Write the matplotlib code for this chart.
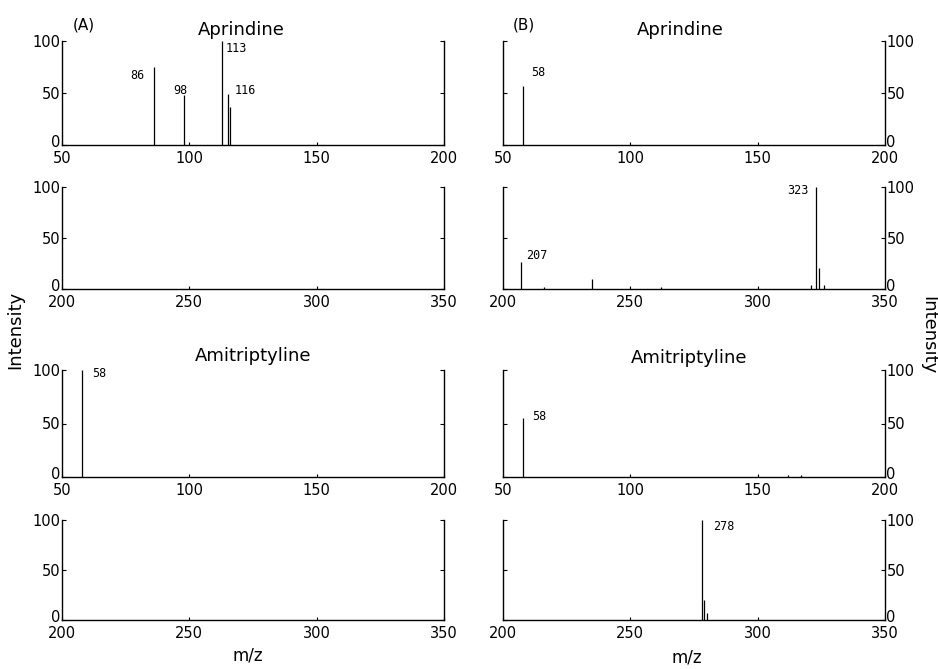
import numpy as np
from matplotlib import pyplot as plt
from matplotlib.transforms import ScaledTranslation

# 质谱数据 (m/z, 相对强度)
apr_a_low_mz = [86, 98, 113, 115, 116]
apr_a_low_int = [75, 48, 100, 49, 37]
apr_a_high_mz = []
apr_a_high_int = []

apr_b_low_mz = [58]
apr_b_low_int = [57]
apr_b_high_mz = [207, 216, 235, 262, 321, 323, 324, 326]
apr_b_high_int = [26, 2, 10, 2, 4, 100, 21, 4]

ami_a_low_mz = [58]
ami_a_low_int = [100]
ami_a_high_mz = []
ami_a_high_int = []

ami_b_low_mz = [58, 162, 167]
ami_b_low_int = [55, 1.5, 1.5]
ami_b_high_mz = [278, 279, 280]
ami_b_high_int = [100, 20, 7]

low_ticks = [50, 100, 150, 200]
high_ticks = [200, 250, 300, 350]
y_ticks = [0, 50, 100]

# 标注的峰
apr_a_low_lab = [86, 98, 113, 116]
apr_b_low_lab = [58]
apr_b_high_lab = [207, 323]
ami_a_low_lab = [58]
ami_b_low_lab = [58]
ami_b_high_lab = [278]

W, H = 938, 669
fig = plt.figure(figsize=(W / 100, H / 100), dpi=100)


def box(x0, x1, y0, y1):
    # 像素 -> 图坐标
    return [x0 / W, 1 - y1 / H, (x1 - x0) / W, (y1 - y0) / H]


def spectrum(rect, mz, inten, xlim, ticks, side, labels, offsets):
    ax = fig.add_axes(rect)
    ax.vlines(mz, 0, inten, colors='k', linewidth=0.9, clip_on=False)
    ax.set_xlim(*xlim)
    ax.set_ylim(0, 100)
    ax.set_xticks(ticks)
    ax.set_yticks(y_ticks)
    ax.spines['top'].set_visible(False)
    for s in ['left', 'right', 'bottom']:
        ax.spines[s].set_linewidth(1.0)
    ax.tick_params(axis='x', direction='in', length=2, pad=4, labelsize=10.5)
    ax.tick_params(axis='y', direction='in', length=3, pad=1, labelsize=10.5,
                   left=True, right=True,
                   labelleft=(side == 'left'), labelright=(side == 'right'))
    # "0" 稍微上移, 避免和 x 轴刻度重叠
    shift = ScaledTranslation(0, 3 / 72, fig.dpi_scale_trans)
    t0 = ax.yaxis.get_major_ticks()[0]
    t0.label1.set_transform(t0.label1.get_transform() + shift)
    t0.label2.set_transform(t0.label2.get_transform() + shift)
    d = dict(zip(mz, inten))
    for m, (dx, dy, ha) in zip(labels, offsets):
        ax.annotate(str(m), xy=(m, d[m]), xytext=(dx * 0.72, dy * 0.72),
                    textcoords='offset points', ha=ha, va='center',
                    fontsize=8.5, family='DejaVu Sans Mono')
    return ax


L = (62, 444)
R = (503, 885)
rows = [(41, 145), (187, 289), (370, 477), (520, 620)]

spectrum(box(L[0], L[1], *rows[0]), apr_a_low_mz, apr_a_low_int, (50, 200), low_ticks, 'left',
         apr_a_low_lab, [(-9, -8, 'right'), (3, 5, 'right'), (3, -7, 'left'), (5, 16, 'left')])
spectrum(box(R[0], R[1], *rows[0]), apr_b_low_mz, apr_b_low_int, (50, 200), low_ticks, 'right',
         apr_b_low_lab, [(8, 13, 'left')])
spectrum(box(L[0], L[1], *rows[1]), apr_a_high_mz, apr_a_high_int, (200, 350), high_ticks, 'left',
         [], [])
spectrum(box(R[0], R[1], *rows[1]), apr_b_high_mz, apr_b_high_int, (200, 350), high_ticks, 'right',
         apr_b_high_lab, [(5, 7, 'left'), (-8, -4, 'right')])
spectrum(box(L[0], L[1], *rows[2]), ami_a_low_mz, ami_a_low_int, (50, 200), low_ticks, 'left',
         ami_a_low_lab, [(10, -4, 'left')])
spectrum(box(R[0], R[1], *rows[2]), ami_b_low_mz, ami_b_low_int, (50, 200), low_ticks, 'right',
         ami_b_low_lab, [(9, 2, 'left')])
spectrum(box(L[0], L[1], *rows[3]), ami_a_high_mz, ami_a_high_int, (200, 350), high_ticks, 'left',
         [], [])
spectrum(box(R[0], R[1], *rows[3]), ami_b_high_mz, ami_b_high_int, (200, 350), high_ticks, 'right',
         ami_b_high_lab, [(11, -6, 'left')])

# 标题与轴标签
fig.text(241 / W, 1 - 30 / H, 'Aprindine', ha='center', va='center', fontsize=13)
fig.text(680 / W, 1 - 30 / H, 'Aprindine', ha='center', va='center', fontsize=13)
fig.text(253 / W, 1 - 356 / H, 'Amitriptyline', ha='center', va='center', fontsize=13)
fig.text(689 / W, 1 - 358 / H, 'Amitriptyline', ha='center', va='center', fontsize=13)
fig.text(84 / W, 1 - 25 / H, '(A)', ha='center', va='center', fontsize=11)
fig.text(524 / W, 1 - 25 / H, '(B)', ha='center', va='center', fontsize=11)
fig.text(15 / W, 1 - 330 / H, 'Intensity', rotation=90, ha='center', va='center', fontsize=13)
fig.text(928 / W, 1 - 335 / H, 'Intensity', rotation=-90, ha='center', va='center', fontsize=13)
fig.text(248 / W, 1 - 655 / H, 'm/z', ha='center', va='center', fontsize=12)
fig.text(687 / W, 1 - 658 / H, 'm/z', ha='center', va='center', fontsize=12)

plt.savefig('out.png', dpi=100)
plt.close()
